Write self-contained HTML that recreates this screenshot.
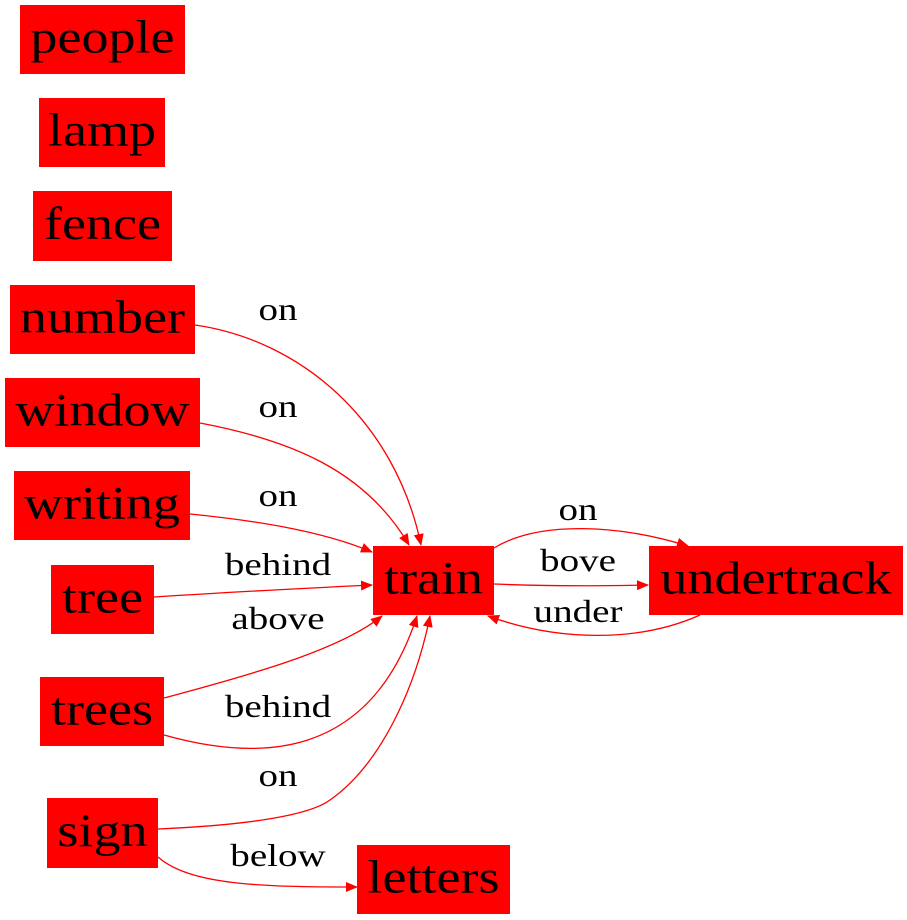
<!DOCTYPE html>
<html><head><meta charset="utf-8"><style>
html,body{margin:0;padding:0;background:#fff;}
svg{display:block;font-family:"Liberation Serif",serif;}
</style></head><body>
<svg id="g" width="907" height="920" viewBox="0 0 907 920">
<defs><marker id="ah" markerWidth="12" markerHeight="10" refX="11" refY="5" orient="auto" markerUnits="userSpaceOnUse"><path d="M0,0 L12,5 L0,10 Z" fill="#f00"/></marker></defs>
</svg>
<script>
const nodeNames=["people","lamp","fence","number","window","writing","tree","trees","sign","train","undertrack","letters"];
const nodeBoxes=[[20,5,165,69],[39,98,126,69],[33,191,139,70],[10,285,185,69],[5,378,195,69],[14,471,176,69],[51,565,103,69],[40,677,124,69],[47,798,111,70],[373,546,121,69],[649,546,254,69],[357,845,153,69]];
const edgeLabels=["on","on","on","behind","above","behind","on","below","on","bove","under"];
const edgePaths=[
"M195,325 C300,340 395,420 421,545",
"M200,423 C290,440 365,470 409,545",
"M190,514 C250,520 320,530 372,552",
"M154,597 C230,592 310,588 372,585",
"M164,698 C250,675 340,650 382,616",
"M164,735 C260,762 370,760 417,616",
"M158,829 C250,825 310,815 330,800 C380,765 415,690 430,616",
"M158,857 C190,885 260,887 357,887",
"M494,548 C540,520 620,525 688,546",
"M494,584 C540,586 600,586 648,585",
"M700,615 C640,642 560,642 488,616"];
const labelPos=[[278,320],[278,417],[278,506],[278,575],[278,629],[278,717],[278,786],[278,866],[578,520],[578,571],[578,622]];
const svg=document.getElementById('g');const NS="http://www.w3.org/2000/svg";
function widen(t,f){const w=t.getComputedTextLength();t.setAttribute('textLength',(w*f).toFixed(1));t.setAttribute('lengthAdjust','spacingAndGlyphs');}
edgePaths.forEach((d,i)=>{
 const p=document.createElementNS(NS,'path');p.setAttribute('d',d);p.setAttribute('fill','none');p.setAttribute('stroke','#f00');p.setAttribute('stroke-width','1.3');p.setAttribute('marker-end','url(#ah)');
 
 
 svg.appendChild(p);
 const t=document.createElementNS(NS,'text');t.setAttribute('x',labelPos[i][0]);t.setAttribute('y',labelPos[i][1]);t.setAttribute('text-anchor','middle');t.setAttribute('font-size','32');t.textContent=edgeLabels[i];
 
 
 svg.appendChild(t);widen(t,1.22);
});
nodeNames.forEach((n,i)=>{
 const b=nodeBoxes[i];const g=document.createElementNS(NS,'g');
 
 
 const r=document.createElementNS(NS,'rect');r.setAttribute('x',b[0]);r.setAttribute('y',b[1]);r.setAttribute('width',b[2]);r.setAttribute('height',b[3]);r.setAttribute('fill','#f00');
 const t=document.createElementNS(NS,'text');t.setAttribute('x',b[0]+b[2]/2);t.setAttribute('y',b[1]+b[3]/2+13);t.setAttribute('text-anchor','middle');t.setAttribute('font-size','47');t.textContent=n;
 g.appendChild(r);g.appendChild(t);svg.appendChild(g);widen(t,1.15);
});
</script>
</body></html>
